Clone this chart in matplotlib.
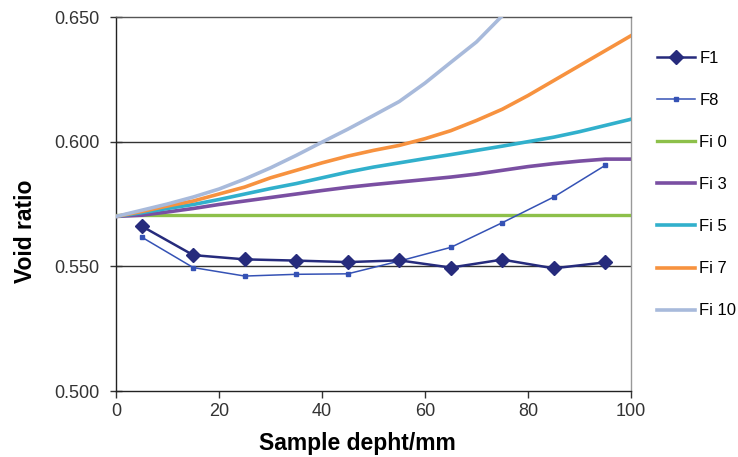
import matplotlib
matplotlib.use("Agg")
import matplotlib.pyplot as plt

plt.rcParams['font.family'] = ['Liberation Sans', 'DejaVu Sans']

# Data
x_pts = [5, 15, 25, 35, 45, 55, 65, 75, 85, 95]
f1 = [0.5661, 0.5545, 0.5528, 0.5523, 0.5517, 0.5524, 0.5495, 0.5527, 0.5492, 0.5516]
f8 = [0.5617, 0.5495, 0.5461, 0.5468, 0.5470, 0.5521, 0.5576, 0.5675, 0.5778, 0.5905]

x_fi0 = [0, 100]
fi0 = [0.5705, 0.5705]

x_fi = [0, 5, 10, 15, 20, 25, 30, 35, 40, 45, 50, 55, 60, 65, 70, 75, 80, 85, 90, 95, 100]
fi3 = [0.5700, 0.5705, 0.5718, 0.5732, 0.5748, 0.5762, 0.5776, 0.5790, 0.5804, 0.5817, 0.5828,
       0.5838, 0.5848, 0.5858, 0.5870, 0.5885, 0.5900, 0.5912, 0.5922, 0.5930, 0.5930]
fi5 = [0.5700, 0.5715, 0.5732, 0.5748, 0.5768, 0.5790, 0.5812, 0.5832, 0.5855, 0.5878, 0.5898,
       0.5915, 0.5932, 0.5948, 0.5965, 0.5982, 0.6000, 0.6018, 0.6040, 0.6065, 0.6090]
fi7 = [0.5700, 0.5720, 0.5742, 0.5762, 0.5790, 0.5818, 0.5855, 0.5885, 0.5915, 0.5942, 0.5965,
       0.5985, 0.6012, 0.6044, 0.6085, 0.6130, 0.6185, 0.6245, 0.6305, 0.6365, 0.6425]
x_fi10 = [0, 5, 10, 15, 20, 25, 30, 35, 40, 45, 50, 55, 60, 65, 70, 75]
fi10 = [0.5700, 0.5725, 0.5750, 0.5778, 0.5810, 0.5850, 0.5895, 0.5945, 0.5998, 0.6050,
        0.6105, 0.6161, 0.6235, 0.6318, 0.6400, 0.6505]

x_ticks = [0, 20, 40, 60, 80, 100]
y_ticks = [0.500, 0.550, 0.600, 0.650]
y_tick_labels = ["0.500", "0.550", "0.600", "0.650"]

fig = plt.figure(figsize=(7.38, 4.57), dpi=100)
ax = fig.add_axes([116/738, 66/457, 515/738, 374/457])

ax.set_xlim(0, 100)
ax.set_ylim(0.5, 0.65)

for yv in [0.55, 0.60]:
    ax.axhline(yv, color='#333333', lw=1.0, zorder=1)

ax.plot(x_pts, f1, color='#262B7C', lw=1.8, marker='D', ms=7, label='F1', zorder=5)
ax.plot(x_pts, f8, color='#3552B5', lw=1.1, marker='s', ms=2.5, label='F8', zorder=4)
ax.plot(x_fi0, fi0, color='#8DC04A', lw=2.4, label='Fi 0', zorder=3)
ax.plot(x_fi, fi3, color='#7A4FA2', lw=2.6, label='Fi 3', zorder=3)
ax.plot(x_fi, fi5, color='#31B0CC', lw=2.6, label='Fi 5', zorder=3)
ax.plot(x_fi, fi7, color='#F7923F', lw=2.6, label='Fi 7', zorder=3)
ax.plot(x_fi10, fi10, color='#A8BADB', lw=2.6, label='Fi 10', zorder=3)

ax.set_xticks(x_ticks)
ax.set_yticks(y_ticks)
ax.set_yticklabels(y_tick_labels)
ax.tick_params(axis='both', labelsize=13, colors='#333333', labelcolor='#333333', width=1)
ax.tick_params(axis='y', direction='inout', length=8, pad=8)
ax.tick_params(axis='x', direction='out', length=5, pad=3.5)

ax.spines['left'].set_color('#222222')
ax.spines['bottom'].set_color('#222222')
ax.spines['top'].set_color('#555555')
ax.spines['right'].set_color('#999999')
for s in ax.spines.values():
    s.set_linewidth(1.0)

ax.set_xlabel('Sample depht/mm', fontsize=16.5, fontweight='bold')
ax.set_ylabel('Void ratio', fontsize=16.5, fontweight='bold')
ax.xaxis.set_label_coords((357.5 - 116) / 515, (391 - 432) / 374)
ax.yaxis.set_label_coords((37 - 116) / 515, (391 - 231) / 374)

fig.legend(loc='upper left', bbox_to_anchor=(649/738, 1 - 43/457), frameon=False,
           fontsize=12, labelspacing=1.62, handlelength=2.28, handletextpad=0.24,
           borderpad=0, numpoints=1)

fig.savefig('out.png', dpi=100)
